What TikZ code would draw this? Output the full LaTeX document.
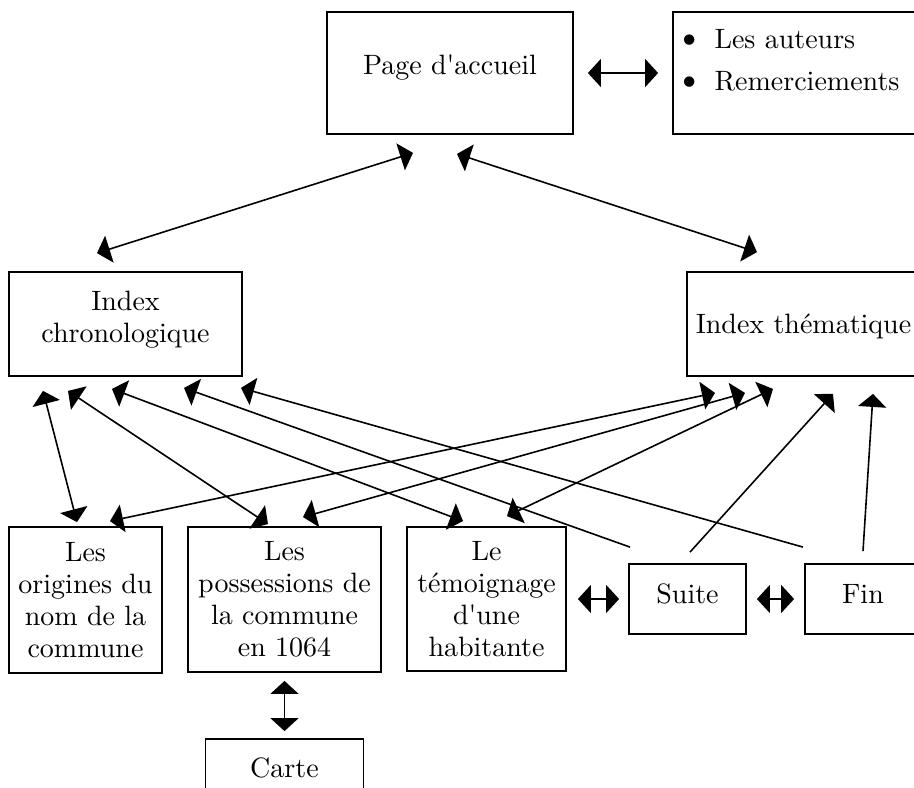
\documentclass[tikz,border=0pt]{standalone}
\usepackage{fontspec}
\newfontfamily\diagfont{lmroman10-regular.otf}
\usetikzlibrary{arrows.meta}
\begin{document}
\begin{tikzpicture}[x=1pt,y=-1pt,
  txt/.style={font=\diagfont\fontsize{28}{32}\selectfont},
  box/.style={txt, draw, line width=1.8pt, rectangle, inner sep=0pt, align=center},
  conn/.style={line width=1.6pt},
  dbl/.style={conn, {Triangle[length=13pt,width=28pt]}-{Triangle[length=13pt,width=28pt]}},
  sgl/.style={conn, -{Triangle[length=13pt,width=28pt]}},
]
\useasboundingbox (0,0) rectangle (914,788);
\clip (0,0) rectangle (914,788);
\fill[white] (0,0) rectangle (914,788);

\node[box, minimum width=246pt, minimum height=122pt, text height=20pt, text depth=18pt] (page) at (450,73) {Page d'accueil};
\node[box, minimum width=262pt, minimum height=122pt] (credits) at (804,73) {};
\node[txt, anchor=base west, inner sep=0pt] (auteurs) at (675,48) {\scalebox{1.3}{\textbullet}\hspace{11pt}Les auteurs};
\node[txt, anchor=base west, inner sep=0pt] (remerc) at (675,90) {\scalebox{1.3}{\textbullet}\hspace{11pt}Remerciements};
\node[box, minimum width=233pt, minimum height=104pt, text depth=15pt] (chrono) at (125.5,324) {Index\\chronologique};
\node[box, minimum width=233pt, minimum height=104pt, text height=20pt, text depth=2pt] (them) at (803.5,324) {Index thématique};
\node[box, minimum width=153pt, minimum height=146pt] (orig) at (85.5,600) {Les\\origines du\\nom de la\\commune};
\node[box, minimum width=193pt, minimum height=145pt] (poss) at (284.5,599.5) {Les\\possessions de\\la commune\\en 1064};
\node[box, minimum width=159pt, minimum height=144pt] (temo) at (486.5,599) {Le\\témoignage\\d'une\\habitante};
\node[box, minimum width=117pt, minimum height=70pt, text height=20pt, text depth=12pt] (suite) at (687.5,599) {Suite};
\node[box, minimum width=116pt, minimum height=70pt, text height=20pt, text depth=12pt] (fin) at (863,599) {Fin};
\node[box, minimum width=158pt, minimum height=76pt, text height=20pt, text depth=20pt] (carte) at (284.5,777) {Carte};

\draw[dbl] ([shift={(-28.5,-18)}]chrono.north) -- ([shift={(-37,18)}]page.south);
\draw[dbl] ([shift={(7,19)}]page.south) -- ([shift={(-46.5,-19)}]them.north);
\draw[dbl] ([shift={(14,0)}]page.east) -- ([shift={(-14,0)}]credits.west);
\draw[dbl] ([shift={(-82.5,14)}]chrono.south) -- ([shift={(-8.5,-4)}]orig.north);
\draw[dbl] ([shift={(-57.5,14)}]chrono.south) -- ([shift={(-16.5,-2)}]poss.north);
\draw[dbl] ([shift={(-13.5,12)}]chrono.south) -- ([shift={(-23.5,-5)}]temo.north);
\draw[sgl] ([shift={(-57.5,-16)}]suite.north) -- ([shift={(58.5,11)}]chrono.south);
\draw[sgl] ([shift={(-60,-16)}]fin.north) -- ([shift={(115.5,11)}]chrono.south);
\draw[dbl] ([shift={(24.5,-5)}]orig.north) -- ([shift={(-88.5,16)}]them.south);
\draw[dbl] ([shift={(18.5,-9)}]poss.north) -- ([shift={(-58.5,16)}]them.south);
\draw[dbl] ([shift={(20.5,-10)}]temo.north) -- ([shift={(-30.5,12)}]them.south);
\draw[sgl] ([shift={(2.5,-11)}]suite.north) -- ([shift={(29.5,17)}]them.south);
\draw[sgl] ([shift={(0,-12)}]fin.north) -- ([shift={(69.5,17)}]them.south);
\draw[dbl] ([shift={(11,0)}]temo.east) -- ([shift={(-9,0)}]suite.west);
\draw[dbl] ([shift={(10,0)}]suite.east) -- ([shift={(-10,0)}]fin.west);
\draw[dbl] ([shift={(0,8)}]poss.south) -- ([shift={(0,-7)}]carte.north);
\end{tikzpicture}
\end{document}
